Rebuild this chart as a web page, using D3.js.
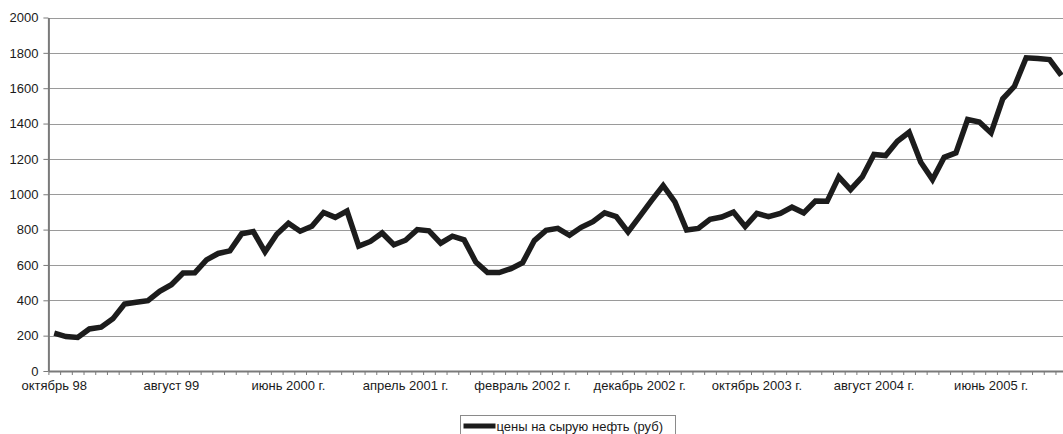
<!DOCTYPE html>
<html>
<head>
<meta charset="utf-8">
<script src="https://cdn.jsdelivr.net/npm/d3@7/dist/d3.min.js"></script>
<style>
  html, body { margin: 0; padding: 0; background: #fff; }
  svg { display: block; }
  text { font-family: "Liberation Sans", Arial, sans-serif; fill: #1a1a1a; }
</style>
</head>
<body>
<svg id="chart" width="1063" height="434"></svg>
<script>
// Monthly crude oil price in roubles, October 1998 onwards
const startYear = 1998;
const startMonth = 9; // October (0-based)
const prices = [
  214, 195, 190, 238, 248, 295, 379, 389, 398, 451,
  488, 554, 556, 629, 665, 680, 776, 789, 674, 774,
  836, 791, 819, 897, 869, 905, 707, 733, 781, 714,
  740, 800, 793, 723, 763, 742, 617, 557, 557, 579,
  613, 738, 796, 807, 768, 813, 845, 895, 873, 787,
  875, 964, 1049, 957, 798, 807, 858, 871, 899, 817,
  892, 873, 892, 927, 895, 962, 960, 1098, 1026, 1098,
  1225, 1219, 1300, 1351, 1181, 1083, 1209, 1234, 1423, 1409,
  1347, 1540, 1611, 1772, 1768, 1762, 1672
];
const tickLabels = [
  "октябрь 98", "август 99", "июнь 2000 г.", "апрель 2001 г.",
  "февраль 2002 г.", "декабрь 2002 г.", "октябрь 2003 г.",
  "август 2004 г.", "июнь 2005 г."
];
const labelEvery = 10;
const yTicks = [0, 200, 400, 600, 800, 1000, 1200, 1400, 1600, 1800, 2000];
const seriesName = "цены на сырую нефть (руб)";

const months = prices.map((_, i) => {
  const m = startMonth + i;
  return new Date(startYear + Math.floor(m / 12), m % 12, 1);
});
const data = prices.map((v, i) => ({ i, date: months[i], value: v }));

const svg = d3.select("#chart");
const plotLeft = 48.4, step = 11.71;
const plotRight = plotLeft + step * prices.length;
const plotTop = 17.5, plotBottom = 371;

const x = d3.scaleBand().domain(d3.range(prices.length)).range([plotLeft, plotRight]).paddingInner(0).paddingOuter(0);
const xEdge = d3.scaleLinear().domain([0, prices.length]).range([plotLeft, plotRight]);
const y = d3.scaleLinear().domain([0, 2000]).range([plotBottom, plotTop]);

// horizontal gridlines
svg.append("g")
  .selectAll("line")
  .data(yTicks.filter(t => t > 0))
  .join("line")
  .attr("x1", plotLeft).attr("x2", plotRight)
  .attr("y1", d => Math.round(y(d)) + 0.5).attr("y2", d => Math.round(y(d)) + 0.5)
  .attr("stroke", "#9a9a9a").attr("stroke-width", 1.2);

// y axis
const yAxis = svg.append("g")
  .attr("transform", `translate(${plotLeft},0)`)
  .call(d3.axisLeft(y).tickValues(yTicks).tickSize(5).tickPadding(5).tickSizeOuter(0)
    .tickFormat(d3.format("d")));
yAxis.select(".domain").attr("stroke", "#7a7a7a").attr("stroke-width", 2);
yAxis.selectAll(".tick line").attr("stroke", "#7a7a7a").attr("stroke-width", 1);
yAxis.selectAll(".tick text").attr("font-size", 13).attr("fill", "#1a1a1a")
  .attr("font-family", "'Liberation Sans', Arial, sans-serif");

// x axis: tick marks between categories
const xAxis = svg.append("g")
  .attr("transform", `translate(0,${plotBottom})`)
  .call(d3.axisBottom(xEdge).tickValues(d3.range(prices.length + 1)).tickSize(4).tickFormat("").tickSizeOuter(0));
xAxis.select(".domain").attr("stroke", "#7a7a7a").attr("stroke-width", 2);
xAxis.selectAll(".tick line").attr("stroke", "#7a7a7a").attr("stroke-width", 1);

// x axis labels, every tenth month
const labelIdx = d3.range(0, prices.length, labelEvery).slice(0, tickLabels.length);
const xLab = svg.append("g")
  .attr("transform", `translate(0,${plotBottom})`)
  .call(d3.axisBottom(x).tickValues(labelIdx).tickSize(0).tickPadding(10)
    .tickFormat((d, k) => tickLabels[k]));
xLab.select(".domain").remove();
xLab.selectAll(".tick text").attr("font-size", 13).attr("fill", "#1a1a1a")
  .attr("font-family", "'Liberation Sans', Arial, sans-serif");

// price line
const line = d3.line()
  .x(d => x(d.i) + x.bandwidth() / 2)
  .y(d => y(d.value));
svg.append("path")
  .datum(data)
  .attr("d", line)
  .attr("fill", "none")
  .attr("stroke", "#1c1c1c")
  .attr("stroke-width", 5.5)
  .attr("stroke-linejoin", "miter")
  .attr("stroke-linecap", "butt");

// legend
const lg = svg.append("g").attr("transform", "translate(460.5,415.5)");
lg.append("rect").attr("width", 215).attr("height", 30)
  .attr("fill", "#fff").attr("stroke", "#8a8a8a").attr("stroke-width", 1);
lg.append("line").attr("x1", 3).attr("x2", 35).attr("y1", 10.5).attr("y2", 10.5)
  .attr("stroke", "#1c1c1c").attr("stroke-width", 5);
lg.append("text").attr("x", 36).attr("y", 15).attr("font-size", 13).text(seriesName);
</script>
</body>
</html>
